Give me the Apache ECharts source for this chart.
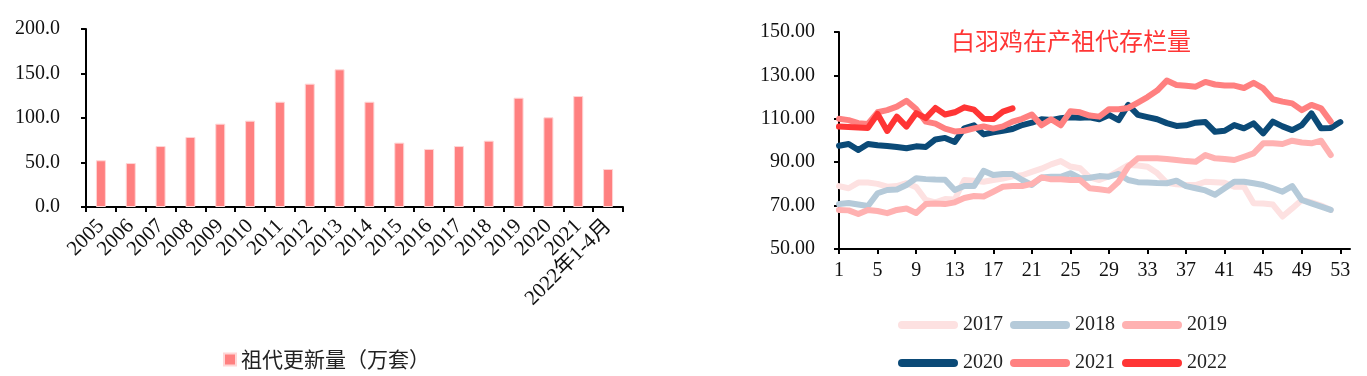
<!DOCTYPE html>
<html>
<head>
<meta charset="utf-8">
<script src="https://cdn.jsdelivr.net/npm/echarts@6/dist/echarts.min.js"></script>
<style>
  html, body { margin: 0; padding: 0; background: #fff; }
  #main { width: 1367px; height: 376px; }
</style>
</head>
<body>
<div id="main"></div>
<script>
// 左图：祖代更新量
const years = ['2005', '2006', '2007', '2008', '2009', '2010', '2011', '2012', '2013',
  '2014', '2015', '2016', '2017', '2018', '2019', '2020', '2021', '2022年1-4月'];
const renewal = [52.5, 49.4, 68.5, 78.7, 93.6, 97, 118.3, 138.6, 154.7,
  118.3, 72.3, 65.2, 68.5, 74.5, 122.8, 100.8, 124.7, 42.7];

// 右图：白羽鸡在产祖代存栏量（按周）
const weeks = [];
for (let i = 1; i <= 54; i++) weeks.push(String(i));

const y2017 = [79, 78, 80.6, 80.6, 80, 78.7, 79, 80.3, 78.5, 72.6, 71.5, 73, 72.8, 81.8, 81.5, 81, 81.8, 82.5, 83.5, 84,
  85.5, 87, 89, 90.5, 88, 87.2, 83, 81.8, 83.5, 86, 88.7, 88.5, 87.9, 85, 80.5, 79.8, 79.5, 79.5, 81, 80.8,
  80.5, 78.7, 78.7, 71.1, 71, 70.5, 65, 68.7, 72.6, 71.5, 70, 68];
const y2018 = [70.7, 71.2, 70.5, 69.8, 75.7, 77.2, 77.4, 79.5, 82.6, 82.2, 82, 81.9, 77.2, 79, 79, 86, 84.1, 84.6, 84.6, 81.8,
  79.5, 83, 83.3, 83.3, 84.9, 82.6, 82.8, 83.6, 83.3, 84.6, 81.8, 80.8, 80.6, 80.4, 80.3, 81.5, 79, 78, 77, 75,
  78, 81, 81, 80.3, 79.5, 78, 76.4, 79, 72.6, 71, 69.5, 68];
const y2019 = [68, 67.8, 66.1, 68, 67.5, 66.5, 68, 68.7, 66.6, 70.7, 71, 70.7, 71.5, 73.5, 74.4, 74.2, 76.4, 78.7, 79, 79,
  80, 83, 82.1, 82.1, 81.8, 81.8, 78, 77.5, 76.9, 81, 88, 91.8, 91.8, 91.8, 91.5, 91, 90.5, 90.2, 93.3, 91.8,
  91.5, 91, 92.5, 94.1, 98.7, 98.7, 98.4, 99.9, 99.1, 98.7, 99.9, 93.3];
const y2020 = [97.6, 98.4, 95.6, 98.4, 97.8, 97.5, 97, 96.4, 97.3, 97, 100.5, 101.2, 99.3, 105.6, 107, 102.8, 103.8, 104.5, 105.3, 107.1,
  108.2, 109.8, 109.4, 110.3, 110.7, 110.5, 110.7, 109.8, 111.8, 109.4, 116.4, 111.8, 110.8, 109.8, 108, 106.7, 107, 108.2, 108.5, 104,
  104.5, 107.1, 105.6, 107.9, 103.3, 108.7, 106.5, 104.8, 107.1, 112.5, 105.6, 105.8, 108.5];
const y2021 = [110, 109.4, 108, 107.6, 113, 114, 115.6, 118.3, 114.5, 108.7, 107.8, 105.5, 104.2, 104.5, 105.6, 106.5, 105.5, 106.5, 108.7, 110,
  112, 107, 109.8, 107, 113.5, 113, 111.5, 111, 114.4, 114.4, 115, 117.5, 120, 123, 127.6, 125.6, 125.2, 124.8, 127, 125.8,
  125.3, 125.3, 124.2, 126.6, 124, 119, 117.9, 117.1, 114, 116.4, 114.8, 108.7];
const y2022 = [106.4, 106.2, 106, 105.8, 112.2, 104.4, 111, 106.4, 112.6, 110.3, 115, 112, 113, 115.3, 114.2, 110, 109.9, 113.3, 114.8];

const lineNames = ['2017', '2018', '2019', '2020', '2021', '2022'];
const lineData = [y2017, y2018, y2019, y2020, y2021, y2022];
const lineColors = ['#fde1e1', '#b5cad9', '#ffb1b1', '#0b4a77', '#ff8080', '#ff3535'];

const serif = '"Liberation Serif", "Times New Roman", "Noto Sans CJK SC", serif';
const axisLine = { show: true, lineStyle: { color: '#000', width: 2 } };
const axisTick = { show: true, length: 5, lineStyle: { color: '#000', width: 2 } };
// 图例用的圆头粗线
const capsule = 'path://M4,0 L56,0 A4,4 0 0 1 56,8 L4,8 A4,4 0 0 1 4,0 Z';

const chart = echarts.init(document.getElementById('main'));

const lineSeries = lineNames.map((name, i) => ({
  name: name,
  type: 'line',
  xAxisIndex: 1,
  yAxisIndex: 1,
  data: lineData[i],
  symbol: 'none',
  smooth: false,
  lineStyle: { color: lineColors[i], width: 6, cap: 'round', join: 'round' },
  itemStyle: { color: lineColors[i] },
  z: 2 + i
}));

const lineLegend = (names, top) => ({
  data: names,
  left: 893,
  top: top,
  icon: capsule,
  itemWidth: 60,
  itemHeight: 8,
  itemGap: 7,
  textStyle: { fontSize: 20, color: '#222', fontFamily: serif }
});

chart.setOption({
  animation: false,
  title: {
    text: '白羽鸡在产祖代存栏量',
    left: 946,
    top: 24,
    textStyle: { color: '#ff3535', fontSize: 24, fontWeight: 'normal', fontFamily: '"Noto Sans CJK SC", sans-serif' }
  },
  legend: [
    {
      data: ['祖代更新量（万套）'],
      left: 218,
      top: 344,
      icon: 'rect',
      itemWidth: 12,
      itemHeight: 12,
      textStyle: { fontSize: 21, color: '#222', fontFamily: '"Noto Sans CJK SC", sans-serif' }
    },
    lineLegend(['2017', '2018', '2019'], 310),
    lineLegend(['2020', '2021', '2022'], 348)
  ],
  grid: [
    { left: 86, right: 744, top: 29, bottom: 169 },
    { left: 839, right: 17, top: 32, bottom: 127 }
  ],
  xAxis: [
    {
      type: 'category',
      gridIndex: 0,
      data: years,
      axisLine: axisLine,
      axisTick: axisTick,
      axisLabel: { rotate: 45, interval: 0, fontSize: 21, color: '#111', fontFamily: serif, margin: 16 }
    },
    {
      type: 'category',
      gridIndex: 1,
      data: weeks,
      boundaryGap: false,
      axisLine: axisLine,
      axisTick: { show: true, length: 5, interval: 3, lineStyle: { color: '#000', width: 2 } },
      axisLabel: { interval: 3, fontSize: 20, color: '#111', fontFamily: serif, margin: 12 }
    }
  ],
  yAxis: [
    {
      type: 'value',
      gridIndex: 0,
      min: 0,
      max: 200,
      interval: 50,
      splitLine: { show: false },
      axisLine: axisLine,
      axisTick: axisTick,
      axisLabel: { formatter: v => v.toFixed(1), fontSize: 20, color: '#111', fontFamily: serif, margin: 26 }
    },
    {
      type: 'value',
      gridIndex: 1,
      min: 50,
      max: 150,
      interval: 20,
      splitLine: { show: false },
      axisLine: axisLine,
      axisTick: axisTick,
      axisLabel: { formatter: v => v.toFixed(2), fontSize: 20, color: '#111', fontFamily: serif, margin: 24 }
    }
  ],
  series: [
    {
      name: '祖代更新量（万套）',
      type: 'bar',
      xAxisIndex: 0,
      yAxisIndex: 0,
      data: renewal,
      barWidth: 10,
      itemStyle: { color: '#ff8080', borderColor: '#ffd6d6', borderWidth: 1 }
    }
  ].concat(lineSeries)
});
</script>
</body>
</html>
